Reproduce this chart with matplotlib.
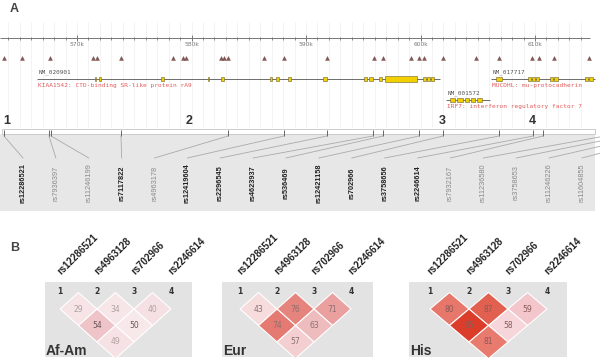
import numpy as np
import matplotlib
matplotlib.use("Agg")
import matplotlib.pyplot as plt
from matplotlib.patches import Rectangle, Polygon

# ---- panel A data (genomic positions in kb) ----
ruler_major = [570, 580, 590, 600, 610]
ruler_minor = np.arange(564, 615)

# all SNP markers on the track
snp_marks = [563.62, 565.20, 567.64, 571.40, 571.75, 573.84, 578.38, 579.26, 579.52,
             582.58, 582.84, 583.19, 586.33, 588.08, 591.83, 595.94, 596.72, 599.17,
             599.87, 600.31, 601.97, 604.85, 606.86, 609.74, 610.35, 611.66, 614.72]

# genotyped SNPs, left to right
snp_names = ["rs12286521", "rs7936397", "rs11246199", "rs7117822", "rs4963178",
             "rs12419604", "rs2296545", "rs4623937", "rs536469", "rs12421158",
             "rs702966", "rs3758656", "rs2246614", "rs7932167", "rs11236580",
             "rs3758653", "rs11246226", "rs11604855"]
snp_pos = [563.62, 567.55, 567.73, 573.84, 583.19, 588.08, 591.83, 595.85, 596.72,
           599.87, 601.97, 606.86, 609.83, 610.70, 616.11, 617.86, 619.61, 621.35]
snp_bold = [1, 0, 0, 1, 0, 1, 1, 1, 1, 1, 1, 1, 1, 0, 0, 0, 0, 0]

# genes: accession, description, span (kb), exons (kb)
genes = [
    ("NM_020901", "KIAA1542: CTD-binding SR-like protein rA9", (566.51, 601.70),
     [(571.57, 571.70), (571.92, 572.10), (577.34, 577.60), (581.44, 581.57),
      (582.58, 582.84), (586.86, 586.99), (587.38, 587.64), (588.43, 588.69),
      (591.48, 591.83), (595.07, 595.33), (595.50, 595.85), (596.37, 596.64),
      (596.90, 599.69), (600.22, 600.48), (600.57, 600.83), (600.92, 601.18)]),
    ("NM_017717", "MUCDHL: mu-protocadherin", (606.16, 615.24),
     [(606.59, 607.12), (609.39, 609.65), (609.74, 610.00), (610.09, 610.35),
      (611.31, 611.57), (611.66, 612.01), (614.37, 614.63), (614.72, 615.07)]),
    ("NM_001572", "IRF7: interferon regulatory factor 7", (602.23, 606.07),
     [(602.58, 603.01), (603.19, 603.71), (603.89, 604.24), (604.41, 604.76),
      (604.93, 605.37)]),
]
gene_rows = [79, 79, 100]

# numbered SNPs used in panel B
num_labels = ["1", "2", "3", "4"]
num_pos = [563.9, 579.8, 601.9, 609.8]

# ---- panel B data ----
pops = ["Af-Am", "Eur", "His"]
ld_snps = ["rs12286521", "rs4963128", "rs702966", "rs2246614"]
pairs = [(0, 1), (1, 2), (2, 3), (0, 2), (1, 3), (0, 3)]
ld_vals = {
    "Af-Am": [29, 34, 40, 54, 50, 49],
    "Eur": [43, 76, 71, 74, 63, 57],
    "His": [80, 87, 59, 95, 58, 81],
}
ld_cols = {
    "Af-Am": ["#f6e4e6", "#f6e6e8", "#f5e0e3", "#eec4c8", "#f7e9ea", "#f6e2e4"],
    "Eur": ["#f6dcdd", "#e5837d", "#eaa09e", "#e47a72", "#efbcbd", "#f3cfd1"],
    "His": ["#e8776b", "#e2604f", "#f3c6cc", "#dc3d2b", "#f6d6da", "#e87a6e"],
}
ld_txt = {
    "Af-Am": ["#b0a0a0", "#b0a0a0", "#b0a0a0", "#6a5555", "#6a5555", "#b0a0a0"],
    "Eur": ["#8a7070"] * 6,
    "His": ["#8a5a55"] * 6,
}

PX_PER_KB = 11.45
KB_LEFT = 570 - 77 / PX_PER_KB
KB_RIGHT = KB_LEFT + 600 / PX_PER_KB

fig = plt.figure(figsize=(6, 3.63), dpi=100)
ax = fig.add_axes([0, 0, 1, 1])
ax.set_xlim(KB_LEFT, KB_RIGHT)
ax.set_ylim(363, 0)
ax.axis("off")

ax.text(KB_LEFT + 10 / PX_PER_KB, 9, "A", fontsize=9, fontweight="bold",
        color="#444", va="center", family="Liberation Sans")

# faint grid
ax.vlines(ruler_minor, 22, 127, color="#f1f1f1", lw=0.6, zorder=0)

# ruler
ax.hlines(38, KB_LEFT, KB_LEFT + 590 / PX_PER_KB, color="#777", lw=0.7)
ax.vlines(ruler_minor, 36.5, 39.5, color="#777", lw=0.6)
ax.vlines(ruler_major, 35, 41, color="#777", lw=0.7)
for m in ruler_major:
    ax.text(m, 44, "%dk" % m, fontsize=4.3, color="#777", ha="center", va="center")

# SNP triangles
ax.plot(snp_marks, [58] * len(snp_marks), ls="none", marker="^", ms=2.8,
        color="#8a5555", mec="#6a4545", mew=0.3)

# genes
for (acc, desc, span, exons), gy in zip(genes, gene_rows):
    ax.hlines(gy, span[0], span[1], color="#555", lw=0.6, zorder=2)
    ax.text(span[0] + 0.1, gy - 7, acc, fontsize=4.3, color="#555",
            va="center", family="DejaVu Sans Mono")
    ax.text(span[0] + 0.1, gy + 6.5, desc, fontsize=4.4, color="#e25a5a",
            va="center", family="DejaVu Sans Mono")
    for s, e in exons:
        h = 6 if e - s > 1 else 4.5
        ax.add_patch(Rectangle((s, gy - h / 2), e - s, h, fc="#f2d000",
                               ec="#6a6030", lw=0.4, zorder=3))

# numbers 1-4
for lab, p in zip(num_labels, num_pos):
    ax.text(p, 121, lab, fontsize=9, fontweight="bold", color="#333",
            ha="center", va="center", family="Liberation Sans")

# SNP bar + grey label area
ax.add_patch(Rectangle((KB_LEFT, 134), 595 / PX_PER_KB, 77, fc="#e7e7e7",
                       ec="none", zorder=0))
ax.add_patch(Rectangle((KB_LEFT + 2 / PX_PER_KB, 128.5), 593 / PX_PER_KB, 5,
                       fc="white", ec="#c4c4c4", lw=0.6, zorder=1))
ax.vlines(snp_pos, 130, 136, color="#666", lw=0.7, zorder=2)

label_x = np.linspace(KB_LEFT + 23 / PX_PER_KB, KB_LEFT + 582 / PX_PER_KB, len(snp_names))
for name, p, lx, b in zip(snp_names, snp_pos, label_x, snp_bold):
    ax.plot([p, lx], [136, 158], color="#aaaaaa", lw=0.6, zorder=1)
    ax.text(lx, 183, name, rotation=90, ha="center", va="center", fontsize=5.3,
            fontweight="bold" if b else "normal",
            color="#222" if b else "#8a8a8a", family="Liberation Sans")

# ---- panel B ----
bx = fig.add_axes([0, 0, 1, 1])
bx.set_xlim(0, 600)
bx.set_ylim(363, 0)
bx.axis("off")

bx.text(10, 248, "B", fontsize=9, fontweight="bold", color="#444", va="center",
        family="Liberation Sans")

box_left = [45, 222, 409]
box_width = [147, 151, 158]
col_off = [15, 18, 21]
col_step = [37, 37, 39]
half_h = 16.5
row0 = 292.5

for pop, left, w, off, step in zip(pops, box_left, box_width, col_off, col_step):
    bx.add_patch(Rectangle((left, 282), w, 75, fc="#e3e3e3", ec="none", zorder=0))
    cols = [left + off + i * step for i in range(4)]
    for i, cx in enumerate(cols):
        bx.text(cx, 291, str(i + 1), fontsize=5.5, fontweight="bold", color="#333",
                ha="center", va="center")
        bx.text(cx + 3, 276, ld_snps[i], rotation=45, rotation_mode="anchor",
                ha="left", va="bottom", fontsize=7, fontweight="bold", color="#222",
                family="Liberation Sans")
    for (i, j), v, c, tc in zip(pairs, ld_vals[pop], ld_cols[pop], ld_txt[pop]):
        cx = (cols[i] + cols[j]) / 2
        cy = row0 + (j - i) * half_h
        hw = step / 2
        bx.add_patch(Polygon([(cx, cy - half_h), (cx + hw, cy), (cx, cy + half_h),
                              (cx - hw, cy)], closed=True, fc=c, ec="white",
                             lw=0.8, zorder=1))
        bx.text(cx, cy, str(v), fontsize=5.5, color=tc, ha="center", va="center",
                zorder=2)
    bx.text(left + 1, 351, pop, fontsize=10, fontweight="bold", color="#333",
            va="center", family="Liberation Sans")

fig.savefig("out.png", dpi=100)
